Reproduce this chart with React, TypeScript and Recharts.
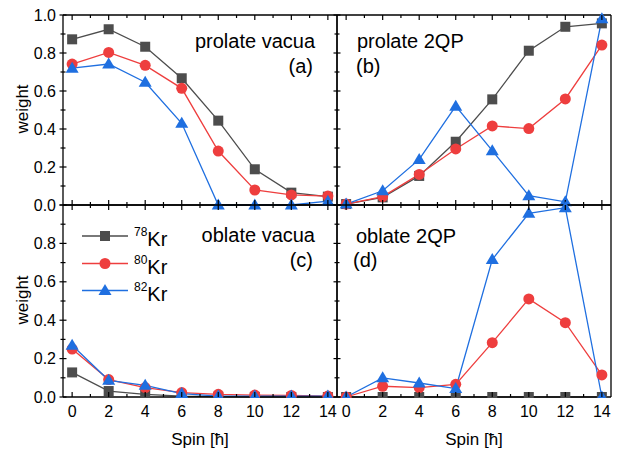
import React from 'react';
import { LineChart, Line, XAxis, YAxis } from 'recharts';

const W = 623;
const H = 452;
const FONT = '"Liberation Sans", Arial, Helvetica, sans-serif';
const GRAY = '#4d4d4d';
const RED = '#ee3e3e';
const BLUE = '#1f6fe0';

const spins = [0, 2, 4, 6, 8, 10, 12, 14];
const xTicks = [0, 1, 2, 3, 4, 5, 6, 7, 8, 9, 10, 11, 12, 13, 14];
const yTicks = [0, 0.1, 0.2, 0.3, 0.4, 0.5, 0.6, 0.7, 0.8, 0.9, 1.0];

// (a) prolate vacua
const a78 = [0.872, 0.925, 0.833, 0.667, 0.444, 0.188, 0.065, 0.044];
const a80 = [0.742, 0.803, 0.735, 0.614, 0.284, 0.079, 0.053, 0.047];
const a82 = [0.72, 0.742, 0.646, 0.43, 0, 0, 0, 0.02];
// (b) prolate 2QP
const b78 = [0.005, 0.04, 0.153, 0.333, 0.556, 0.812, 0.938, 0.956];
const b80 = [0.005, 0.044, 0.161, 0.295, 0.416, 0.402, 0.558, 0.842];
const b82 = [0.005, 0.075, 0.24, 0.52, 0.286, 0.049, 0.017, 0.98];
// (c) oblate vacua
const c78 = [0.128, 0.031, 0.014, 0.005, 0.002, 0, 0, 0];
const c80 = [0.25, 0.091, 0.049, 0.023, 0.014, 0.01, 0.008, 0.005];
const c82 = [0.27, 0.087, 0.061, 0.018, 0.005, 0.005, 0.005, 0.005];
// (d) oblate 2QP
const d78 = [0, 0, 0, 0, 0, 0, 0, 0];
const d80 = [0, 0.056, 0.049, 0.066, 0.283, 0.511, 0.387, 0.115];
const d82 = [0, 0.1, 0.073, 0.044, 0.716, 0.957, 0.986, 0];

const legendNames = ['78', '80', '82'];

function rowsOf(s78: number[], s80: number[], s82: number[]) {
  return spins.map((s, i) => ({ spin: s, k78: s78[i], k80: s80[i], k82: s82[i] }));
}

const rowsA = rowsOf(a78, a80, a82);
const rowsB = rowsOf(b78, b80, b82);
const rowsC = rowsOf(c78, c80, c82);
const rowsD = rowsOf(d78, d80, d82);

const boxA = { l: 63, r: 337, t: 15, b: 205 };
const boxB = { l: 337, r: 611, t: 15, b: 205 };
const boxC = { l: 63, r: 337, t: 205, b: 397 };
const boxD = { l: 337, r: 611, t: 205, b: 397 };

const Square = (p: any) => {
  const { cx, cy, index } = p;
  if (cx == null || cy == null) return <g key={`s${index}`} />;
  return <rect key={`s${index}`} x={cx - 5} y={cy - 5} width={10} height={10} fill={GRAY} />;
};
const Circle = (p: any) => {
  const { cx, cy, index } = p;
  if (cx == null || cy == null) return <g key={`c${index}`} />;
  return <circle key={`c${index}`} cx={cx} cy={cy} r={5.5} fill={RED} />;
};
const Tri = (p: any) => {
  const { cx, cy, index } = p;
  if (cx == null || cy == null) return <g key={`t${index}`} />;
  return (
    <path
      key={`t${index}`}
      d={`M${cx},${cy - 6.5} L${cx + 6.5},${cy + 4.5} L${cx - 6.5},${cy + 4.5} Z`}
      fill={BLUE}
    />
  );
};

function BottomTick(p: any) {
  const { x, y, payload, showLabel, showLine } = p;
  const v = payload.value;
  const major = v % 2 === 0;
  return (
    <g>
      {showLine && <line x1={x} x2={x} y1={y} y2={y - (major ? 5 : 3)} stroke="#000" strokeWidth={1.2} />}
      {showLabel && major && (
        <text x={x} y={y + 20} textAnchor="middle" fontSize={16} fontFamily={FONT} fill="#000">
          {v}
        </text>
      )}
    </g>
  );
}

function TopTick(p: any) {
  const { x, y, payload } = p;
  const major = payload.value % 2 === 0;
  return <line x1={x} x2={x} y1={y} y2={y + (major ? 5 : 3)} stroke="#000" strokeWidth={1.2} />;
}

function LeftTick(p: any) {
  const { x, y, payload, showLabel, showLine, maxLabel } = p;
  const v = payload.value;
  const major = Math.round(v * 10) % 2 === 0;
  const len = major ? 3.5 : 2.5;
  return (
    <g>
      {showLine && <line x1={x - len} x2={x + len} y1={y} y2={y} stroke="#000" strokeWidth={1.2} />}
      {showLabel && major && v <= maxLabel + 1e-9 && (
        <text x={x - 7} y={y + 5.6} textAnchor="end" fontSize={16} fontFamily={FONT} fill="#000">
          {v.toFixed(1)}
        </text>
      )}
    </g>
  );
}

function RightTick(p: any) {
  const { x, y, payload } = p;
  const major = Math.round(payload.value * 10) % 2 === 0;
  return <line x1={x} x2={x - (major ? 4 : 3)} y1={y} y2={y} stroke="#000" strokeWidth={1.2} />;
}

const axisLine = { stroke: '#000', strokeWidth: 1.3 };

function PlotChart({ rows, box, yLabels, maxLabel }: any) {
  const margin = { left: box.l - 1, top: box.t - 1, right: W - box.r - 1, bottom: H - box.b - 1 };
  return (
    <LineChart width={W} height={H} data={rows} margin={margin}>
      <XAxis
        xAxisId={0}
        dataKey="spin"
        type="number"
        domain={[-0.5, 14.5]}
        ticks={xTicks}
        interval={0}
        height={1}
        tickSize={0}
        tickMargin={0}
        tickLine={false}
        axisLine={axisLine}
        orientation="bottom"
        tick={(p: any) => <BottomTick {...p} showLabel={false} showLine={true} />}
      />
      <XAxis
        xAxisId="top"
        dataKey="spin"
        type="number"
        domain={[-0.5, 14.5]}
        ticks={xTicks}
        interval={0}
        height={1}
        tickSize={0}
        tickMargin={0}
        tickLine={false}
        axisLine={axisLine}
        orientation="top"
        tick={(p: any) => <TopTick {...p} />}
      />
      <YAxis
        yAxisId={0}
        type="number"
        domain={[0, 1]}
        ticks={yTicks}
        interval={0}
        width={1}
        tickSize={0}
        tickMargin={0}
        tickLine={false}
        axisLine={axisLine}
        orientation="left"
        tick={(p: any) => <LeftTick {...p} showLabel={yLabels} showLine={true} maxLabel={maxLabel} />}
      />
      <YAxis
        yAxisId="right"
        type="number"
        domain={[0, 1]}
        ticks={yTicks}
        interval={0}
        width={1}
        tickSize={0}
        tickMargin={0}
        tickLine={false}
        axisLine={axisLine}
        orientation="right"
        tick={(p: any) => <RightTick {...p} />}
      />
      <Line xAxisId={0} yAxisId={0} dataKey="k78" stroke={GRAY} strokeWidth={1.3} dot={Square} activeDot={false} isAnimationActive={false} />
      <Line xAxisId={0} yAxisId={0} dataKey="k80" stroke={RED} strokeWidth={1.3} dot={Circle} activeDot={false} isAnimationActive={false} />
      <Line xAxisId={0} yAxisId={0} dataKey="k82" stroke={BLUE} strokeWidth={1.3} dot={Tri} activeDot={false} isAnimationActive={false} />
    </LineChart>
  );
}

function LabelChart({ rows, box, yLabels, maxLabel }: any) {
  const margin = { left: box.l - 1, top: box.t, right: W - box.r, bottom: H - box.b - 1 };
  return (
    <LineChart width={W} height={H} data={rows} margin={margin}>
      <XAxis
        xAxisId={0}
        dataKey="spin"
        type="number"
        domain={[-0.5, 14.5]}
        ticks={xTicks}
        interval={0}
        height={1}
        tickSize={0}
        tickMargin={0}
        tickLine={false}
        axisLine={false}
        orientation="bottom"
        tick={(p: any) => <BottomTick {...p} showLabel={true} showLine={false} />}
      />
      <YAxis
        yAxisId={0}
        type="number"
        domain={[0, 1]}
        ticks={yTicks}
        interval={0}
        width={1}
        tickSize={0}
        tickMargin={0}
        tickLine={false}
        axisLine={false}
        orientation="left"
        tick={(p: any) => <LeftTick {...p} showLabel={yLabels} showLine={false} maxLabel={maxLabel} />}
      />
      <Line xAxisId={0} yAxisId={0} dataKey="k78" stroke="none" dot={false} activeDot={false} isAnimationActive={false} />
    </LineChart>
  );
}

const layer = (h: number, clip: boolean): React.CSSProperties => ({
  position: 'absolute',
  left: 0,
  top: 0,
  width: W,
  height: h,
  overflow: clip ? 'hidden' : 'visible',
});

const txt = { fontFamily: FONT, fill: '#000' } as const;

export default function App() {
  const legendRows = [
    { y: 236, color: GRAY, kind: 'sq' },
    { y: 263.5, color: RED, kind: 'ci' },
    { y: 290.5, color: BLUE, kind: 'tr' },
  ];
  return (
    <div style={{ position: 'absolute', left: 0, top: 0, width: W, height: H, background: '#fff', overflow: 'hidden' }}>
      <div style={layer(H, false)}>
        <PlotChart rows={rowsA} box={boxA} yLabels={true} maxLabel={1.0} />
      </div>
      <div style={layer(H, false)}>
        <PlotChart rows={rowsB} box={boxB} yLabels={false} maxLabel={1.0} />
      </div>
      <div style={layer(398, true)}>
        <PlotChart rows={rowsC} box={boxC} yLabels={false} maxLabel={0.8} />
      </div>
      <div style={layer(398, true)}>
        <PlotChart rows={rowsD} box={boxD} yLabels={false} maxLabel={0.8} />
      </div>
      <div style={layer(H, false)}>
        <LabelChart rows={rowsC} box={boxC} yLabels={true} maxLabel={0.8} />
      </div>
      <div style={layer(H, false)}>
        <LabelChart rows={rowsD} box={boxD} yLabels={false} maxLabel={0.8} />
      </div>
      <svg width={W} height={H} style={{ position: 'absolute', left: 0, top: 0, pointerEvents: 'none' }}>
        <text {...txt} fontSize={20} x={315} y={48} textAnchor="end">prolate vacua</text>
        <text {...txt} fontSize={20} x={313} y={73} textAnchor="end">(a)</text>
        <text {...txt} fontSize={20} x={357} y={48}>prolate 2QP</text>
        <text {...txt} fontSize={20} x={356} y={73}>(b)</text>
        <text {...txt} fontSize={20} x={315} y={242} textAnchor="end">oblate vacua</text>
        <text {...txt} fontSize={20} x={313} y={267} textAnchor="end">(c)</text>
        <text {...txt} fontSize={20} x={356} y={243}>oblate 2QP</text>
        <text {...txt} fontSize={20} x={353} y={267}>(d)</text>

        <text {...txt} fontSize={17} transform="translate(28,109) rotate(-90)" textAnchor="middle">weight</text>
        <text {...txt} fontSize={17} transform="translate(28,300) rotate(-90)" textAnchor="middle">weight</text>
        <text {...txt} fontSize={17} x={200} y={445} textAnchor="middle">Spin [ħ]</text>
        <text {...txt} fontSize={17} x={474} y={445} textAnchor="middle">Spin [ħ]</text>

        {legendRows.map((r, i) => (
          <g key={i}>
            <line x1={82} x2={128} y1={r.y} y2={r.y} stroke={r.color} strokeWidth={1.3} />
            {r.kind === 'sq' && <rect x={100} y={r.y - 5} width={10} height={10} fill={r.color} />}
            {r.kind === 'ci' && <circle cx={105} cy={r.y} r={5.5} fill={r.color} />}
            {r.kind === 'tr' && (
              <path d={`M105,${r.y - 6.5} L111.5,${r.y + 4.5} L98.5,${r.y + 4.5} Z`} fill={r.color} />
            )}
            <text {...txt} x={134} y={r.y + 10} fontSize={20}>
              <tspan fontSize={12} dy={-10}>{legendNames[i]}</tspan>
              <tspan dy={10}>Kr</tspan>
            </text>
          </g>
        ))}
      </svg>
    </div>
  );
}
